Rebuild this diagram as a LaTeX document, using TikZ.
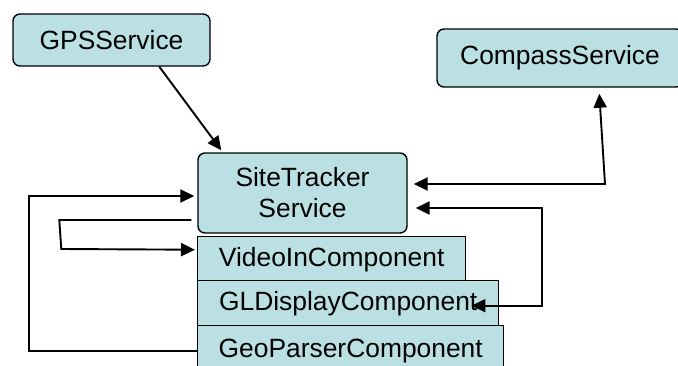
\documentclass[tikz,border=0pt]{standalone}
\usepackage{fontspec}
\setmainfont{Liberation Sans}
\usetikzlibrary{arrows.meta,calc}

\definecolor{boxfill}{RGB}{187,224,227}

\tikzset{
  svc/.style={draw=black, line width=1.4pt, fill=boxfill, rounded corners=7pt,
              inner sep=0pt, align=center, font=\fontsize{26.4}{31}\selectfont},
  comp/.style={draw=black, line width=1.4pt, fill=boxfill,
               inner sep=0pt, align=center, font=\fontsize{26.4}{31}\selectfont,
               text height=19pt, text depth=4pt},
  link/.style={line width=1.9pt, draw=black},
  arr/.style={link, -{Triangle[length=14pt,width=13pt]}},
  biarr/.style={link, {Triangle[length=14pt,width=13pt]}-{Triangle[length=14pt,width=13pt]}}
}

\begin{document}
\begin{tikzpicture}[x=1pt, y=-1pt]
  \useasboundingbox (0,0) rectangle (678,365);
  \clip (0,0) rectangle (678,365);

  % services
  \node[svc, minimum width=197pt, minimum height=52pt] (gps) at (111.5,40) {GPSService};
  \node[svc, minimum width=246pt, minimum height=58pt] (compass) at (560,58) {CompassService};
  \node[svc, minimum width=209pt, minimum height=80pt] (site) at (302.5,193) {SiteTracker\\Service};

  % components stacked under the tracker service
  \node[comp, minimum width=268pt, minimum height=44pt, anchor=north west] (video) at (197,236) {VideoInComponent};
  \node[comp, minimum width=301pt, minimum height=45pt, anchor=north west] (gl) at (197,280) {GLDisplayComponent};
  \node[comp, minimum width=306pt, minimum height=48pt, anchor=north west] (geo) at (197,325) {GeoParserComponent};

  % bend points
  \coordinate (cbend) at (605,184);

  % GPS feeds the tracker
  \draw[arr] ([xshift=147pt]gps.south west) -- ([xshift=24pt,yshift=2pt]site.north west);

  % tracker <-> compass
  \draw[biarr] ([xshift=6pt,yshift=9pt]site.east) -- (cbend) -- ([xshift=163pt,yshift=-6pt]compass.south west);

  % tracker <-> GL display
  \draw[biarr] ([xshift=8pt,yshift=-15pt]site.east) -- ++(126,0) |- ([xshift=-28pt,yshift=-2.5pt]gl.east);

  % geo parser loops back into the tracker
  \draw[arr] ([yshift=-1pt]geo.west) -- ++(-168,0) |- ([xshift=-3pt,yshift=-3pt]site.west);

  % tracker drives video input
  \draw[arr] ([xshift=-6pt,yshift=-27pt]site.west) -- ++(-132,0) -- ++(2,29) -- ([xshift=-2pt,yshift=9pt]video.west);
\end{tikzpicture}
\end{document}
